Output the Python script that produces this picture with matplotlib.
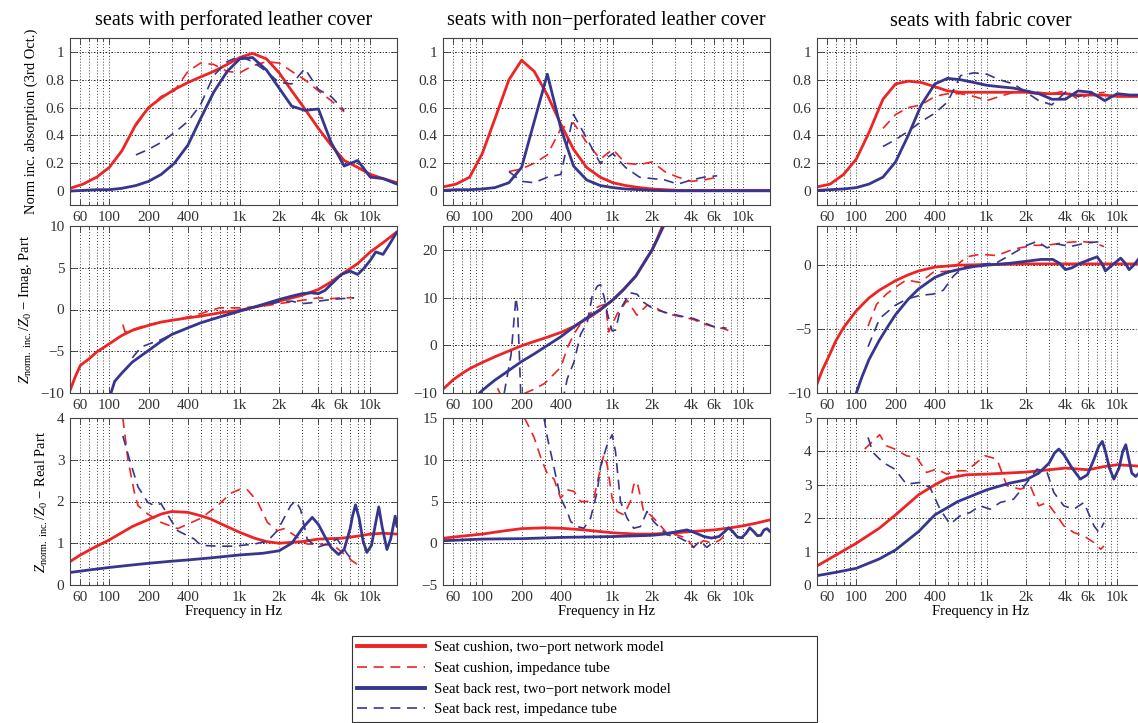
import matplotlib
matplotlib.use('Agg')
import matplotlib.pyplot as plt
from matplotlib.lines import Line2D
from matplotlib.ticker import FixedLocator, NullFormatter

plt.rcParams['font.family'] = ['Liberation Serif', 'DejaVu Serif']
plt.rcParams['mathtext.fontset'] = 'custom'
plt.rcParams['mathtext.rm'] = 'Liberation Serif'
plt.rcParams['mathtext.it'] = 'Liberation Serif:italic'

RED = '#ee2424'
BLUE = '#37368f'

# ---------------- data ----------------
titles = ['seats with perforated leather cover',
          'seats with non\u2212perforated leather cover',
          'seats with fabric cover']

third_oct = [50, 63, 80, 100, 125, 160, 200, 250, 315, 400, 500, 630, 800, 1000,
             1250, 1600, 2000, 2500, 3150, 4000, 5000, 6300, 8000, 10000, 12500, 16000]
tube_oct = [160, 200, 250, 315, 400, 500, 630, 800, 1000, 1250, 1600, 2000, 2500,
            3150, 4000, 5000, 6300]
tube_oct_fab = tube_oct + [8000]

# row 1: normalized incidence absorption (third octave bands)
abs_perf_cush_model = [0.02, 0.05, 0.10, 0.17, 0.29, 0.48, 0.60, 0.67, 0.73, 0.78, 0.82, 0.86, 0.91,
                       0.96, 0.99, 0.95, 0.85, 0.72, 0.59, 0.45, 0.33, 0.22, 0.17, 0.12, 0.09, 0.06]
abs_perf_cush_tube = [0.47, 0.60, 0.68, 0.72, 0.86, 0.92, 0.91, 0.86, 0.85, 0.90, 0.93, 0.92, 0.86,
                      0.80, 0.72, 0.65, 0.57]
abs_perf_back_model = [0.00, 0.005, 0.01, 0.01, 0.02, 0.04, 0.07, 0.12, 0.20, 0.33, 0.52, 0.71, 0.86,
                       0.95, 0.96, 0.87, 0.74, 0.61, 0.58, 0.59, 0.35, 0.18, 0.22, 0.10, 0.09, 0.05]
abs_perf_back_tube = [0.26, 0.30, 0.35, 0.42, 0.50, 0.62, 0.83, 0.93, 0.97, 0.93, 0.86, 0.78, 0.77,
                      0.88, 0.73, 0.68, 0.58]

abs_np_cush_model = [0.03, 0.05, 0.10, 0.27, 0.52, 0.80, 0.94, 0.86, 0.69, 0.48, 0.30, 0.17, 0.10,
                     0.06, 0.04, 0.025, 0.015, 0.01, 0.005, 0.005, 0.005, 0.005, 0.005, 0.005, 0.005, 0.005]
abs_np_cush_tube = [0.14, 0.16, 0.20, 0.26, 0.45, 0.49, 0.35, 0.23, 0.30, 0.20, 0.19, 0.21, 0.14,
                    0.10, 0.07, 0.08, 0.10]
abs_np_back_model = [0.005, 0.01, 0.01, 0.015, 0.025, 0.06, 0.17, 0.50, 0.84, 0.45, 0.18, 0.08, 0.04,
                     0.025, 0.015, 0.01, 0.005, 0.003, 0.002, 0.002, 0.002, 0.002, 0.002, 0.002, 0.002, 0.002]
abs_np_back_tube = [0.14, 0.07, 0.06, 0.10, 0.12, 0.55, 0.38, 0.20, 0.27, 0.17, 0.10, 0.09, 0.08,
                    0.05, 0.08, 0.10, 0.11]

abs_fab_cush_model = [0.03, 0.05, 0.12, 0.23, 0.42, 0.66, 0.77, 0.79, 0.78, 0.75, 0.72, 0.71, 0.71,
                      0.71, 0.71, 0.71, 0.71, 0.70, 0.70, 0.70, 0.69, 0.69, 0.69, 0.68, 0.68, 0.68]
abs_fab_cush_tube = [0.45, 0.55, 0.60, 0.62, 0.68, 0.70, 0.70, 0.68, 0.65, 0.68, 0.71, 0.72, 0.71,
                     0.70, 0.72, 0.66, 0.70, 0.71]
abs_fab_back_model = [0.005, 0.01, 0.015, 0.025, 0.05, 0.10, 0.21, 0.40, 0.62, 0.77, 0.81, 0.80, 0.78,
                      0.76, 0.75, 0.74, 0.72, 0.70, 0.66, 0.66, 0.72, 0.71, 0.65, 0.70, 0.69, 0.69]
abs_fab_back_tube = [0.32, 0.37, 0.43, 0.50, 0.56, 0.64, 0.83, 0.85, 0.84, 0.80, 0.77, 0.71, 0.65,
                     0.62, 0.71, 0.68, 0.70]

# row 2: imaginary part of normalized impedance
im_perf_cush_model_f = [50, 55, 60, 70, 80, 100, 125, 150, 200, 250, 300, 400, 500, 700, 1000, 1500,
                        2000, 3000, 4000, 5000, 6000, 8000, 10000, 12500, 16000]
im_perf_cush_model = [-9.7, -8.0, -6.7, -5.9, -5.1, -4.1, -3.1, -2.5, -1.9, -1.5, -1.3, -1.0, -0.8,
                      -0.4, -0.1, 0.5, 1.0, 1.7, 2.4, 3.3, 4.2, 5.5, 6.9, 8.0, 9.3]
im_perf_cush_tube_f = [127, 132, 150, 200, 300, 400, 500, 600, 700, 800, 1000, 1500, 2000, 3000,
                       4000, 5000, 6000, 7500]
im_perf_cush_tube = [-1.8, -2.7, -2.4, -1.8, -1.3, -0.9, -0.5, -0.1, 0.2, 0.2, 0.2, 0.4, 0.7, 1.1,
                     1.4, 1.3, 1.4, 1.4]
im_perf_back_model_f = [103, 110, 125, 150, 200, 250, 300, 400, 500, 700, 1000, 1500, 2000, 2500,
                        3000, 3500, 4000, 4500, 5000, 6000, 7000, 8000, 9000, 10000, 11000, 12500,
                        14000, 16000]
im_perf_back_model = [-10, -8.6, -7.6, -6.3, -4.9, -3.8, -3.0, -2.2, -1.6, -0.9, -0.2, 0.6, 1.2, 1.6,
                      1.9, 2.0, 1.9, 2.3, 3.0, 4.2, 4.6, 4.2, 5.0, 5.9, 6.9, 6.6, 7.8, 9.3]
im_perf_back_tube_f = [150, 175, 220, 250, 300, 400, 600, 1000, 1500, 2000, 2500, 3000, 3500, 4000,
                       5000, 6000, 7500]
im_perf_back_tube = [-5.8, -4.5, -3.9, -3.6, -3.0, -2.2, -1.2, -0.1, 0.5, 0.9, 1.0, 0.7, 0.8, 1.0,
                     1.2, 1.3, 1.4]

im_np_cush_model_f = [50, 60, 70, 80, 100, 125, 150, 200, 250, 300, 400, 500, 600, 700, 800, 1000,
                      1200, 1500, 1800, 2000, 2200, 2400]
im_np_cush_model = [-9.2, -7.2, -5.9, -4.9, -3.6, -2.4, -1.5, -0.1, 0.8, 1.5, 2.7, 3.9, 5.2, 6.3, 7.4,
                    9.5, 11.6, 14.5, 18.0, 20.0, 22.5, 25.0]
im_np_cush_tube_f = [131, 139, 170, 210, 249, 300, 355, 400, 450, 505, 565, 640, 715, 805, 880, 930,
                     1080, 1290, 1530, 1830, 2180, 2600, 3480, 4150, 4950, 6070, 7030, 7670]
im_np_cush_tube = [-9.0, -10.5, -14.0, -10.1, -9.2, -8.0, -6.0, -4.6, -0.4, 2.4, 4.5, 5.9, 7.6, 8.3,
                   8.6, 2.8, 6.6, 9.4, 6.3, 8.4, 7.7, 6.6, 5.9, 5.4, 4.5, 3.8, 3.5, 3.1]
im_np_back_model_f = [95, 110, 125, 150, 175, 200, 250, 300, 400, 500, 600, 700, 800, 1000, 1200,
                      1500, 1800, 2000, 2200, 2450]
im_np_back_model = [-10, -8.5, -7.3, -5.8, -4.5, -3.4, -1.8, -0.4, 1.8, 3.8, 5.3, 6.5, 7.5, 9.5, 11.6,
                    14.5, 18.0, 20.0, 22.3, 25.0]
im_np_back_tube_f = [147, 166, 181, 186, 192, 197, 260, 350, 423, 448, 504, 566, 637, 695, 760, 805,
                     854, 905, 988, 1048, 1144, 1287, 1364, 1533, 1724, 2055, 2597, 3480, 4150, 4950,
                     6070, 7440]
im_np_back_tube = [-10.1, -2.0, 10.0, 7.6, -1.4, -10.3, -20, -20, -10.2, -7.0, -3.5, 2.3, 4.8, 10.3,
                   12.4, 12.7, 10.3, 6.8, 3.0, 3.2, 7.6, 10.0, 11.0, 10.7, 9.0, 7.6, 6.8, 6.0, 5.6,
                   4.8, 3.8, 3.6]

im_fab_cush_model_f = [50, 55, 60, 70, 80, 100, 125, 150, 200, 250, 300, 400, 600, 1000, 2000, 5000,
                       16000]
im_fab_cush_model = [-9.3, -8.2, -7.4, -5.9, -4.9, -3.6, -2.6, -2.0, -1.25, -0.8, -0.5, -0.2, -0.05,
                     0.0, 0.05, 0.05, 0.05]
im_fab_cush_tube_f = [123, 143, 170, 197, 242, 307, 389, 522, 702, 889, 1194, 1604, 2283, 2894, 3890,
                      5230, 6620, 7900]
im_fab_cush_tube = [-4.8, -3.1, -2.3, -1.8, -1.2, -1.4, -0.6, -0.5, 0.6, 0.8, 0.7, 1.2, 1.5, 1.5, 1.7,
                    1.8, 1.7, 1.4]
im_fab_back_model_f = [100, 110, 125, 150, 175, 200, 250, 300, 400, 500, 600, 800, 1000, 1500, 2000,
                       2600, 3200, 3600, 4000, 4500, 5200, 6000, 7000, 7600, 8100, 9000, 10600, 11500,
                       12300, 13500, 14700, 16000]
im_fab_back_model = [-10, -8.8, -7.4, -5.9, -4.8, -3.9, -2.7, -1.9, -1.0, -0.6, -0.4, -0.15, -0.05,
                     0.1, 0.25, 0.4, 0.4, 0.1, -0.4, -0.25, 0.1, 0.35, 0.6, 0.1, -0.5, -0.1, 0.5, 0.1,
                     -0.4, 0.0, 0.5, 0.3]
im_fab_back_tube_f = [123, 151, 197, 242, 307, 389, 464, 554, 662, 889, 1194, 1604, 2030, 2424, 2894,
                      3455, 4374, 5880, 7900]
im_fab_back_tube = [-6.4, -4.2, -3.2, -2.7, -2.4, -2.3, -2.0, -0.9, -0.2, 0.0, 0.15, 0.9, 1.5, 1.8,
                    1.3, 1.6, 1.4, 1.7, 1.8]

# row 3: real part of normalized impedance
re_perf_cush_model_f = [50, 60, 80, 100, 150, 200, 250, 300, 400, 500, 600, 700, 1000, 1300, 1600,
                        2000, 3000, 4000, 6000, 8000, 10000, 12500, 16000]
re_perf_cush_model = [0.56, 0.72, 0.93, 1.08, 1.40, 1.57, 1.70, 1.76, 1.74, 1.66, 1.58, 1.48, 1.26,
                      1.12, 1.04, 1.00, 1.04, 1.10, 1.12, 1.17, 1.22, 1.24, 1.22]
re_perf_cush_tube_f = [127, 139, 156, 166, 197, 249, 334, 504, 675, 854, 1018, 1144, 1364, 1626,
                       1938, 2180, 2597, 3280, 4150, 4950, 5570, 6250, 7230, 7910]
re_perf_cush_tube = [4.0, 3.0, 2.2, 1.9, 1.7, 1.5, 1.35, 1.6, 1.9, 2.2, 2.3, 2.28, 2.0, 1.5, 1.3,
                     1.35, 1.2, 0.98, 0.98, 0.95, 0.88, 0.75, 0.58, 0.5]
re_perf_back_model_f = [50, 70, 100, 150, 200, 300, 400, 600, 1000, 1500, 2000, 2500, 3000, 3590,
                        4000, 4500, 5000, 5700, 6300, 7000, 7300, 7700, 8200, 8800, 9400, 10200,
                        11000, 11600, 12300, 13400, 14300, 15500, 16000]
re_perf_back_model = [0.30, 0.36, 0.42, 0.48, 0.52, 0.57, 0.60, 0.65, 0.72, 0.76, 0.82, 1.00, 1.35,
                      1.62, 1.45, 1.15, 0.90, 0.73, 0.85, 1.35, 1.65, 1.92, 1.60, 1.05, 0.78, 0.95,
                      1.50, 1.87, 1.40, 0.85, 1.10, 1.65, 1.40]
re_perf_back_tube_f = [127, 143, 166, 197, 222, 249, 297, 334, 448, 504, 675, 905, 1286, 1626, 1938,
                       2451, 2678, 2925, 3280, 3910, 4660, 5570, 6630, 7450]
re_perf_back_tube = [3.57, 3.0, 2.35, 1.98, 1.9, 1.95, 1.55, 1.3, 1.1, 0.95, 0.93, 0.93, 0.98, 1.05,
                     1.3, 1.9, 2.02, 1.8, 1.1, 0.9, 0.98, 1.1, 0.75, 0.55]

re_np_cush_model_f = [50, 70, 100, 150, 200, 300, 400, 600, 800, 1000, 1500, 2000, 3000, 4000, 6000,
                      8000, 10000, 12500, 16000]
re_np_cush_model = [0.6, 0.85, 1.1, 1.5, 1.75, 1.85, 1.8, 1.6, 1.4, 1.25, 1.1, 1.1, 1.25, 1.4, 1.6,
                    1.85, 2.1, 2.4, 2.8]
re_np_cush_tube_f = [210, 222, 249, 280, 315, 354, 398, 448, 504, 566, 637, 716, 805, 854, 905, 988,
                     1079, 1213, 1364, 1446, 1533, 1724, 1938, 2180, 2597, 3095, 3690, 4150, 4950,
                     5900, 6630, 7670]
re_np_cush_tube = [15, 14.3, 12.7, 10.3, 8.3, 7.7, 5.4, 6.4, 6.2, 5.0, 5.0, 5.4, 9.0, 10.6, 9.4, 5.4,
                   3.8, 3.4, 5.0, 7.0, 7.4, 3.8, 3.4, 2.6, 1.2, 1.0, 0.6, -0.5, 0.3, 0.0, 0.4, 1.4]
re_np_back_model_f = [50, 100, 200, 400, 1000, 2000, 2500, 3000, 3700, 4200, 5000, 5700, 6500, 7200,
                      7700, 8300, 9000, 9700, 10500, 11200, 12000, 12800, 13600, 14400, 15200, 16000]
re_np_back_model = [0.3, 0.5, 0.55, 0.7, 0.8, 0.95, 1.1, 1.35, 1.6, 1.3, 0.8, 0.62, 0.8, 1.4, 1.85,
                    1.4, 0.75, 0.65, 1.2, 1.85, 1.4, 0.9, 0.95, 1.6, 1.75, 1.4]
re_np_back_tube_f = [297, 315, 354, 398, 448, 475, 534, 600, 675, 760, 805, 905, 988, 1048, 1144,
                     1287, 1446, 1626, 1828, 2055, 2310, 2597, 3095, 3690, 4150, 4665, 5250, 5740,
                     6250]
re_np_back_tube = [15, 12.7, 9.1, 5.4, 3.8, 2.6, 2.0, 1.8, 3.0, 6.2, 9.2, 11.8, 13.0, 11.0, 5.0, 3.0,
                   1.8, 2.0, 3.8, 2.6, 1.8, 1.0, 0.8, 0.2, -0.5, 0.3, -0.5, 0.0, 0.8]

re_fab_cush_model_f = [50, 70, 100, 150, 200, 300, 400, 500, 700, 1000, 2000, 3000, 4000, 6000, 8000,
                       10000, 16000]
re_fab_cush_model = [0.57, 0.9, 1.25, 1.7, 2.1, 2.7, 3.0, 3.2, 3.3, 3.32, 3.38, 3.45, 3.5, 3.45, 3.55,
                     3.6, 3.55]
re_fab_cush_tube_f = [116, 151, 170, 197, 242, 290, 346, 412, 493, 588, 702, 838, 971, 1194, 1426,
                      1804, 2152, 2496, 2894, 3455, 3890, 4640, 5540, 6620, 7440, 7900]
re_fab_cush_tube = [4.07, 4.5, 4.17, 4.07, 3.87, 3.82, 3.37, 3.47, 3.32, 3.42, 3.42, 3.67, 3.87, 3.77,
                    2.97, 2.87, 2.97, 2.37, 2.47, 2.07, 1.77, 1.57, 1.47, 1.27, 1.07, 1.17]
re_fab_back_model_f = [50, 70, 100, 150, 200, 300, 400, 600, 1000, 1500, 2000, 2500, 3000, 3300,
                       3560, 3900, 4500, 5200, 5900, 6600, 7200, 7670, 8100, 8700, 9400, 10300, 11000,
                       11600, 12200, 12900, 13800, 14700, 16000]
re_fab_back_model = [0.28, 0.38, 0.5, 0.78, 1.05, 1.6, 2.1, 2.5, 2.85, 3.05, 3.15, 3.35, 3.65, 3.95,
                     4.07, 3.9, 3.5, 3.17, 3.3, 3.75, 4.15, 4.3, 4.0, 3.5, 3.17, 3.5, 4.0, 4.2, 3.8,
                     3.35, 3.25, 3.35, 3.5]
re_fab_back_tube_f = [123, 134, 160, 197, 242, 307, 367, 438, 522, 624, 745, 889, 1061, 1266, 1604,
                      2030, 2424, 2894, 3260, 3890, 4640, 5540, 6620, 7240, 7900]
re_fab_back_tube = [4.42, 3.97, 3.67, 3.47, 3.02, 3.07, 2.92, 2.27, 1.82, 2.07, 2.17, 2.37, 2.27, 2.47,
                    2.57, 3.07, 3.47, 3.37, 2.77, 2.37, 2.27, 2.47, 1.77, 1.57, 1.87]

xtick_vals = [60, 100, 200, 400, 1000, 2000, 4000, 6000, 10000]
xtick_labels = ['60', '100', '200', '400', '1k', '2k', '4k', '6k', '10k']
minor_vals = [50, 70, 80, 90, 300, 500, 600, 700, 800, 900, 3000, 5000, 7000, 8000, 9000]

ylims = [[(-0.1, 1.1), (-0.1, 1.1), (-0.1, 1.1)],
         [(-10, 10), (-10, 25), (-10, 3)],
         [(0, 4), (-5, 15), (0, 5)]]
yticks = [[[0, 0.2, 0.4, 0.6, 0.8, 1]] * 3,
          [[-10, -5, 0, 5, 10], [-10, 0, 10, 20], [-10, -5, 0]],
          [[0, 1, 2, 3, 4], [-5, 0, 5, 10, 15], [0, 1, 2, 3, 4, 5]]]
ytick_labels = [[['0', '0.2', '0.4', '0.6', '0.8', '1']] * 3,
                [['\u221210', '\u22125', '0', '5', '10'], ['\u221210', '0', '10', '20'], ['\u221210', '\u22125', '0']],
                [['0', '1', '2', '3', '4'], ['\u22125', '0', '5', '10', '15'], ['0', '1', '2', '3', '4', '5']]]

# each panel: (cushion model, cushion tube, back model, back tube) as (f, values)
panels = [
    [((third_oct, abs_perf_cush_model), (tube_oct, abs_perf_cush_tube),
      (third_oct, abs_perf_back_model), (tube_oct, abs_perf_back_tube)),
     ((third_oct, abs_np_cush_model), (tube_oct, abs_np_cush_tube),
      (third_oct, abs_np_back_model), (tube_oct, abs_np_back_tube)),
     ((third_oct, abs_fab_cush_model), (tube_oct_fab, abs_fab_cush_tube),
      (third_oct, abs_fab_back_model), (tube_oct, abs_fab_back_tube))],
    [((im_perf_cush_model_f, im_perf_cush_model), (im_perf_cush_tube_f, im_perf_cush_tube),
      (im_perf_back_model_f, im_perf_back_model), (im_perf_back_tube_f, im_perf_back_tube)),
     ((im_np_cush_model_f, im_np_cush_model), (im_np_cush_tube_f, im_np_cush_tube),
      (im_np_back_model_f, im_np_back_model), (im_np_back_tube_f, im_np_back_tube)),
     ((im_fab_cush_model_f, im_fab_cush_model), (im_fab_cush_tube_f, im_fab_cush_tube),
      (im_fab_back_model_f, im_fab_back_model), (im_fab_back_tube_f, im_fab_back_tube))],
    [((re_perf_cush_model_f, re_perf_cush_model), (re_perf_cush_tube_f, re_perf_cush_tube),
      (re_perf_back_model_f, re_perf_back_model), (re_perf_back_tube_f, re_perf_back_tube)),
     ((re_np_cush_model_f, re_np_cush_model), (re_np_cush_tube_f, re_np_cush_tube),
      (re_np_back_model_f, re_np_back_model), (re_np_back_tube_f, re_np_back_tube)),
     ((re_fab_cush_model_f, re_fab_cush_model), (re_fab_cush_tube_f, re_fab_cush_tube),
      (re_fab_back_model_f, re_fab_back_model), (re_fab_back_tube_f, re_fab_back_tube))],
]

ylabels = ['Norm inc. absorption (3rd Oct.)',
           r'$Z_{\mathrm{norm.\ inc.}}/Z_0$' + ' \u2212 Imag. Part',
           r'$Z_{\mathrm{norm.\ inc.}}/Z_0$' + ' \u2212 Real Part']

legend_labels = ['Seat cushion, two\u2212port network model',
                 'Seat cushion, impedance tube',
                 'Seat back rest, two\u2212port network model',
                 'Seat back rest, impedance tube']

# ---------------- figure ----------------
W, H = 1138, 723
fig = plt.figure(figsize=(W / 100, H / 100), dpi=100)

col_left = [70, 443, 817]
row_top = [38, 226, 418]
ax_w, ax_h = 327, 167

styles = [dict(color=RED, lw=2.0, ls='-'),
          dict(color=RED, lw=1.2, ls=(0, (6, 4))),
          dict(color=BLUE, lw=2.0, ls='-'),
          dict(color=BLUE, lw=1.2, ls=(0, (6, 4)))]

for r in range(3):
    for c in range(3):
        ax = fig.add_axes([col_left[c] / W, 1 - (row_top[r] + ax_h) / H, ax_w / W, ax_h / H])
        ax.set_xscale('log')
        ax.set_xlim(50, 16000)
        ax.set_ylim(*ylims[r][c])
        for (fx, vy), st in zip(panels[r][c], styles):
            ax.plot(fx, vy, solid_capstyle='round', **st)
        ax.xaxis.set_major_locator(FixedLocator(xtick_vals))
        ax.set_xticklabels(xtick_labels)
        ax.xaxis.set_minor_locator(FixedLocator(minor_vals))
        ax.xaxis.set_minor_formatter(NullFormatter())
        ax.set_yticks(yticks[r][c])
        ax.set_yticklabels(ytick_labels[r][c])
        ax.grid(which='both', axis='x', color='k', lw=0.6, ls=(0, (1, 2.5)))
        ax.grid(which='major', axis='y', color='k', lw=0.6, ls=(0, (2, 2, 1, 2)))
        ax.tick_params(which='both', direction='in', top=True, right=True, labelsize=11,
                       colors='#333333', pad=4)
        ax.tick_params(which='major', length=4, width=0.6)
        ax.tick_params(which='minor', length=2.5, width=0.6)
        for sp in ax.spines.values():
            sp.set_linewidth(0.8)
            sp.set_color('#444444')
        ax.set_axisbelow(True)
        if r == 0:
            ax.set_title(titles[c], fontsize=14.5, pad=9)
        if r == 2:
            ax.set_xlabel('Frequency in Hz', fontsize=10.5, labelpad=1)
        if c == 0:
            ax.set_ylabel(ylabels[r], fontsize=10.5, labelpad=5)

handles = [Line2D([], [], color=RED, lw=2.8),
           Line2D([], [], color=RED, lw=1.2, ls=(0, (6, 4))),
           Line2D([], [], color=BLUE, lw=2.8),
           Line2D([], [], color=BLUE, lw=1.2, ls=(0, (6, 4)))]
leg = fig.legend(handles, legend_labels, loc='upper left',
                 bbox_to_anchor=(352 / W, 1 - 636 / H - 0.2, 465 / W, 0.2), mode='expand',
                 fontsize=10.6, frameon=True, fancybox=False, edgecolor='#333333', framealpha=1,
                 handlelength=4.6, handletextpad=0.6, labelspacing=0.5, borderaxespad=0,
                 borderpad=0.35)
leg.get_frame().set_linewidth(0.8)

fig.savefig('out.png', dpi=100)
